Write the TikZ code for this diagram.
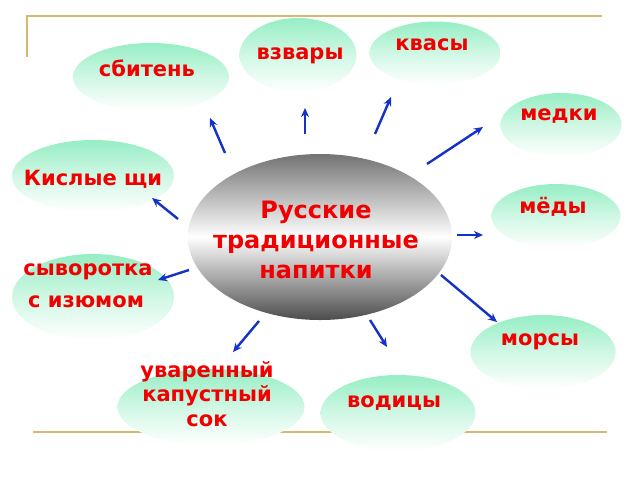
\documentclass[tikz,border=0pt]{standalone}
\usepackage{fontspec}
\setmainfont{DejaVu Sans}
\usetikzlibrary{shapes.geometric,arrows.meta}
\definecolor{mint}{RGB}{150,238,196}
\definecolor{frameline}{RGB}{212,186,112}
\definecolor{arrowblue}{RGB}{20,50,200}
\definecolor{txtred}{RGB}{240,0,0}
\tikzset{
  bubble/.style={ellipse, inner sep=0pt, draw=none, top color=mint, bottom color=white, middle color=mint!45},
  hub/.style={ellipse, inner sep=0pt, draw=none, top color=black!55, bottom color=black!70, middle color=white},
  lbl/.style={text=txtred, font=\fontsize{21}{24.5}\selectfont\bfseries, align=center, inner sep=0pt},
  hublbl/.style={text=txtred, font=\fontsize{24}{30}\selectfont\bfseries, align=center, inner sep=0pt},
  conn/.style={draw=arrowblue, line width=2.4pt, -{Stealth[length=9pt,width=8pt]}},
  border/.style={draw=frameline, line width=2pt}
}
\begin{document}
\begin{tikzpicture}[x=1pt,y=-1pt]
\useasboundingbox[fill=white] (0,0) rectangle (640,480);
% frame
\coordinate (f1) at (27,57);
\coordinate (f2) at (27,16);
\coordinate (f3) at (602,16);
\coordinate (f4) at (33,432);
\coordinate (f5) at (607,432);
\draw[border] (f1) -- (f2) -- (f3);
\draw[border] (f4) -- (f5);
% bubbles
\node[bubble, minimum width=156pt, minimum height=68pt] (sbiten) at (151,77) {};
\node[bubble, minimum width=117pt, minimum height=74pt] (vzvary) at (298,55) {};
\node[bubble, minimum width=131pt, minimum height=63pt] (kvasy) at (435,53) {};
\node[bubble, minimum width=121pt, minimum height=64pt] (medki) at (561,125) {};
\node[bubble, minimum width=162pt, minimum height=72pt] (shchi) at (93,176) {};
\node[bubble, minimum width=129pt, minimum height=64pt] (medy) at (556,216) {};
\node[bubble, minimum width=162pt, minimum height=86pt] (syv) at (93,297) {};
\node[bubble, minimum width=145pt, minimum height=74pt] (morsy) at (543,352) {};
\node[bubble, minimum width=187pt, minimum height=76pt] (sok) at (211,407) {};
\node[bubble, minimum width=155pt, minimum height=76pt] (voditsy) at (398,413) {};
\node[hub, minimum width=264pt, minimum height=166pt] (hub) at (320,237) {};
% labels
\node[lbl] (sbitenl) at (147,68) {сбитень};
\node[lbl] (vzvaryl) at (300,56) {взвары};
\node[lbl] (kvasyl) at (432,45) {квасы};
\node[lbl] (medkil) at (559,116) {медки};
\node[lbl] (shchil) at (93,179) {Кислые щи};
\node[lbl] (medyl) at (553,207) {мёды};
\node[lbl] (syvl1) at (88,272) {сыворотка};
\node[lbl] (syvl2) at (86,302) {с изюмом};
\node[lbl] (morsyl) at (540,342) {морсы};
\node[lbl] (sokl) at (207,394) {уваренный\\капустный\\сок};
\node[lbl] (voditsyl) at (394,403) {водицы};
\node[hublbl] (hubl) at (316,240) {Русские\\традиционные\\напитки};
% arrow ends
\coordinate (a1s) at (225,153); \coordinate (a1e) at (210,118);
\coordinate (a2s) at (305,134); \coordinate (a2e) at (305,108);
\coordinate (a3s) at (375,134); \coordinate (a3e) at (391,97);
\coordinate (a4s) at (427,164); \coordinate (a4e) at (483,127);
\coordinate (a5s) at (178,219); \coordinate (a5e) at (152,198);
\coordinate (a6s) at (457,235); \coordinate (a6e) at (483,235);
\coordinate (a7s) at (189,270); \coordinate (a7e) at (158,280);
\coordinate (a8s) at (441,275); \coordinate (a8e) at (497,322);
\coordinate (a9s) at (370,320); \coordinate (a9e) at (387,347);
\coordinate (a10s) at (259,321); \coordinate (a10e) at (233,352);
\foreach \i in {1,...,10} {\draw[conn] (a\i s) -- (a\i e);}
\end{tikzpicture}
\end{document}
